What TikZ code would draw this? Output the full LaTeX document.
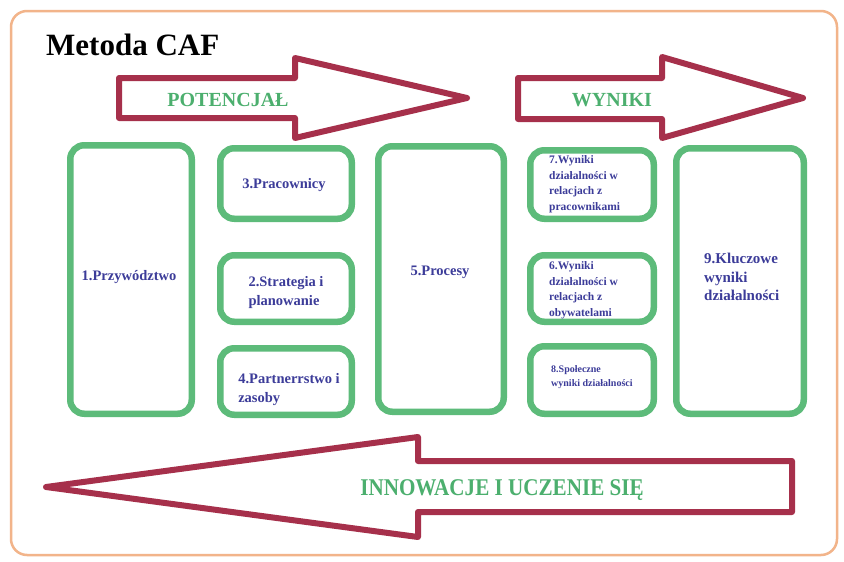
\documentclass[tikz,border=0pt]{standalone}
\usepackage{fontspec}
\usepackage{graphicx}
\setmainfont{Liberation Serif}
\definecolor{frameor}{HTML}{F2B48A}
\definecolor{boxgreen}{HTML}{5DBB7A}
\definecolor{arrowred}{HTML}{A6304B}
\definecolor{txtblue}{HTML}{3C3C99}
\definecolor{txtgreen}{HTML}{4CAF6E}
\begin{document}
\begin{tikzpicture}[x=1pt,y=-1pt,
  gbox/.style={draw=boxgreen, line width=6.5pt, rounded corners=14pt, fill=white, inner sep=0pt},
  bigarrow/.style={draw=arrowred, line width=6pt, line join=round, fill=white},
  boxtext/.style={text=txtblue, font=\bfseries\fontsize{14.5}{19}\selectfont, align=left, inner sep=0pt},
  smalltext/.style={text=txtblue, font=\bfseries\fontsize{11.5}{15.5}\selectfont, align=left, inner sep=0pt, anchor=west},
  arrowtext/.style={text=txtgreen, font=\bfseries\fontsize{20}{24}\selectfont, inner sep=0pt}
]
\useasboundingbox (0,0) rectangle (844,562);
\fill[white] (0,0) rectangle (844,562);
% outer frame
\draw[frameor, line width=2.5pt, rounded corners=16pt] (11,11) rectangle (837,555);
% title
\node[font=\bfseries\fontsize{31}{36}\selectfont, anchor=west, inner sep=0pt] (title) at (46,45) {Metoda CAF};
% top arrows
\draw[bigarrow] (119,78) -- (295,78) -- (295,58) -- (467,98) -- (295,138) -- (295,118) -- (119,118) -- cycle;
\node[arrowtext] (pot) at (228,100) {POTENCJAŁ};
\draw[bigarrow] (518,78) -- (662,78) -- (662,57) -- (803,98) -- (662,138) -- (662,119) -- (518,119) -- cycle;
\node[arrowtext] (wyn) at (612,100) {WYNIKI};
% bottom arrow
\draw[bigarrow] (46,487) -- (418,437) -- (418,461) -- (792,461) -- (792,512) -- (418,512) -- (418,537) -- cycle;
\node[text=txtgreen, font=\bfseries\fontsize{24}{28}\selectfont, inner sep=0pt] (inn) at (502,490) {\scalebox{0.88}[1]{INNOWACJE I UCZENIE SIĘ}};
% boxes
\node[gbox, minimum width=121.5pt, minimum height=268.5pt] (b1) at (131,279.5) {};
\node[gbox, minimum width=131.5pt, minimum height=70.5pt] (b3) at (286,183.5) {};
\node[gbox, minimum width=131.5pt, minimum height=66.5pt] (b2) at (286,288.5) {};
\node[gbox, minimum width=131.5pt, minimum height=66.5pt] (b4) at (286,381.5) {};
\node[gbox, minimum width=125.5pt, minimum height=265.5pt] (b5) at (441,279) {};
\node[gbox, minimum width=123.5pt, minimum height=68.5pt] (b7) at (592,184.5) {};
\node[gbox, minimum width=123.5pt, minimum height=66.5pt] (b6) at (592,288.5) {};
\node[gbox, minimum width=123.5pt, minimum height=67.5pt] (b8) at (592,380) {};
\node[gbox, minimum width=127.5pt, minimum height=265.5pt] (b9) at (740,281) {};
% texts
\node[boxtext] (t1) at (129,277) {1.Przywództwo};
\node[boxtext] (t3) at (284,185) {3.Pracownicy};
\node[boxtext] (t2) at (286,293) {2.Strategia i\\planowanie};
\node[boxtext] (t4) at (289,390) {4.Partnerrstwo i\\zasoby};
\node[boxtext] (t5) at (440,272) {5.Procesy};
\node[smalltext] (t7) at (549,184) {7.Wyniki\\działalności w\\relacjach z\\pracownikami};
\node[smalltext] (t6) at (549,290) {6.Wyniki\\działalności w\\relacjach z\\obywatelami};
\node[smalltext, font=\bfseries\fontsize{10}{14}\selectfont] (t8) at (551,377) {8.Społeczne\\wyniki działalności};
\node[boxtext, anchor=west, font=\bfseries\fontsize{15}{18.5}\selectfont] (t9) at (704,277) {9.Kluczowe\\wyniki\\działalności};
\end{tikzpicture}
\end{document}
